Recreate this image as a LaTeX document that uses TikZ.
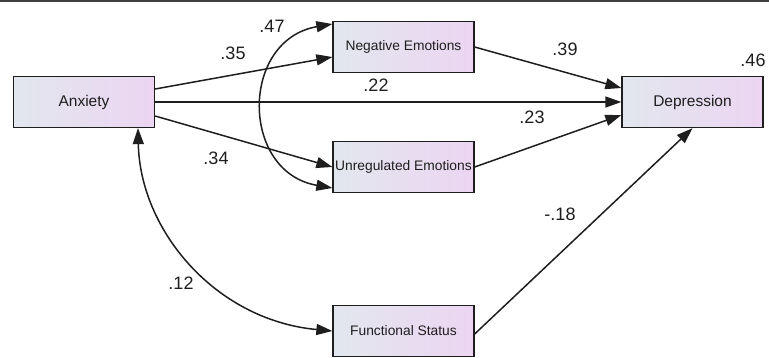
\documentclass[tikz,border=0pt]{standalone}
\usepackage{fontspec}
\setmainfont{Liberation Sans}
\usetikzlibrary{arrows.meta}
\definecolor{boxl}{RGB}{226,231,238}
\definecolor{boxr}{RGB}{236,213,242}
\definecolor{ink}{RGB}{30,30,30}
\begin{document}
\begin{tikzpicture}[x=1pt,y=-1pt,
  var/.style={draw=ink, line width=1.3pt, left color=boxl, right color=boxr,
    minimum width=141pt, minimum height=51pt, inner sep=0pt, text=ink},
  outervar/.style={var, font=\fontsize{15.5}{17}\selectfont},
  innervar/.style={var, font=\fontsize{13.8}{15}\selectfont},
  edgearrow/.style={draw=ink, line width=1.5pt, -{Triangle[length=16pt,width=11pt]}},
  botharrow/.style={draw=ink, line width=1.5pt, {Triangle[length=16pt,width=11pt]}-{Triangle[length=16pt,width=11pt]}},
  coef/.style={font=\fontsize{18}{20}\selectfont, text=ink, inner sep=0pt}]
\useasboundingbox (0,0) rectangle (769,357);
\draw[line width=2pt, ink!85] (0,1.2) -- (769,1.2);

\node[outervar] (anx) at (84,102) {Anxiety};
\node[innervar] (neg) at (403.5,47) {Negative Emotions};
\node[innervar] (unr) at (403.5,167) {Unregulated Emotions};
\node[innervar] (fs) at (403.5,331) {Functional Status};
\node[outervar] (dep) at (692.5,102) {Depression};

\draw[edgearrow] ([yshift=13pt]anx.east) -- ([yshift=-10pt]neg.west);
\draw[edgearrow] (anx.east) -- (dep.west);
\draw[edgearrow] ([yshift=-14pt]anx.east) -- (unr.west);
\draw[edgearrow] (neg.east) -- ([yshift=14pt]dep.west);
\draw[edgearrow] (unr.east) -- ([yshift=-13pt]dep.west);
\draw[edgearrow] ([yshift=-3pt]fs.east) -- (dep.south);

\draw[botharrow] ([yshift=23pt]neg.west) .. controls (240,40) and (240,172) .. ([yshift=-21pt]unr.west);
\draw[botharrow] ([xshift=54pt]anx.south) .. controls (140,230) and (215,320) .. (fs.west);

\node[coef] (l35) at (233,53) {.35};
\node[coef] (l47) at (272,26) {.47};
\node[coef] (l22) at (376,85) {.22};
\node[coef] (l39) at (565,49) {.39};
\node[coef] (l46) at (753,60) {.46};
\node[coef] (l23) at (532,117) {.23};
\node[coef] (l34) at (216,158) {.34};
\node[coef] (l18) at (560,214) {-.18};
\node[coef] (l12) at (181,283) {.12};
\end{tikzpicture}
\end{document}
